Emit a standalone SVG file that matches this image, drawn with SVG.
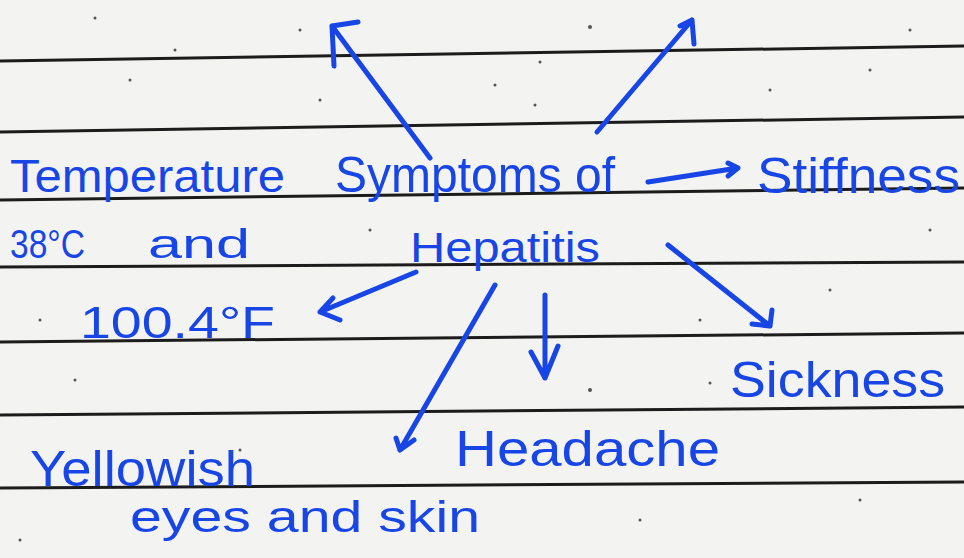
<svg xmlns="http://www.w3.org/2000/svg" width="964" height="558" viewBox="0 0 964 558">
<defs>
<style>
.rule{stroke:#1c1c1c;stroke-width:3;fill:none}
.ink{fill:#1846e6;font-family:"Liberation Sans","DejaVu Sans",sans-serif}
.arr{stroke:#1846e6;stroke-width:5;fill:none;stroke-linecap:round;stroke-linejoin:round}
.dot{fill:#555}
</style>
</defs>
<rect width="964" height="558" fill="#f3f3f1"/>
<g id="paper-lines">
<path class="rule" d="M0 61 L964 46"/>
<path class="rule" d="M0 132 L964 117"/>
<path class="rule" d="M0 200 L964 188"/>
<path class="rule" d="M0 267 L964 262"/>
<path class="rule" d="M0 342 L964 333"/>
<path class="rule" d="M0 415 L964 407"/>
<path class="rule" d="M0 488 L964 482"/>
</g>
<g id="specks">
<circle class="dot" cx="95" cy="18" r="1.5"/><circle class="dot" cx="175" cy="50" r="1.5"/><circle class="dot" cx="300" cy="30" r="1.5"/>
<circle class="dot" cx="590" cy="27" r="2"/><circle class="dot" cx="540" cy="62" r="1.5"/><circle class="dot" cx="870" cy="70" r="1.5"/>
<circle class="dot" cx="910" cy="30" r="1.5"/><circle class="dot" cx="495" cy="85" r="1.5"/><circle class="dot" cx="535" cy="105" r="1.5"/>
<circle class="dot" cx="320" cy="100" r="1.5"/><circle class="dot" cx="130" cy="80" r="1.5"/><circle class="dot" cx="770" cy="90" r="1.5"/>
<circle class="dot" cx="930" cy="230" r="1.5"/><circle class="dot" cx="370" cy="230" r="1.5"/><circle class="dot" cx="830" cy="290" r="1.5"/>
<circle class="dot" cx="590" cy="390" r="2"/><circle class="dot" cx="700" cy="320" r="1.5"/><circle class="dot" cx="75" cy="380" r="1.5"/>
<circle class="dot" cx="240" cy="450" r="1.5"/><circle class="dot" cx="640" cy="520" r="1.5"/><circle class="dot" cx="860" cy="500" r="1.5"/>
<circle class="dot" cx="40" cy="320" r="1.5"/><circle class="dot" cx="710" cy="383" r="1.5"/><circle class="dot" cx="20" cy="540" r="1.5"/>
</g>
<g id="connectors">
<path class="arr" d="M430 158 L332 26 M332 26 L334 66 M332 26 L358 22"/>
<path class="arr" d="M597 132 L692 20 M692 20 L680 26 M692 20 L694 44"/>
<path class="arr" d="M648 182 L738 168 M738 168 L728 163 M738 168 L728 176"/>
<path class="arr" d="M668 245 L770 326 M770 326 L772 310 M770 326 L752 324"/>
<path class="arr" d="M545 295 L545 378 M545 378 L531 352 M545 378 L558 346"/>
<path class="arr" d="M495 285 L400 450 M400 450 L396 438 M400 450 L414 440"/>
<path class="arr" d="M416 272 L320 312 M320 312 L333 298 M320 312 L340 320"/>
</g>
<g id="node-center">
<text class="ink" x="335" y="192" font-size="50" textLength="280" lengthAdjust="spacingAndGlyphs">Symptoms of</text>
<text class="ink" x="410" y="262" font-size="42" textLength="190" lengthAdjust="spacingAndGlyphs">Hepatitis</text>
</g>
<g id="node-temperature">
<text class="ink" x="10" y="192" font-size="46" textLength="275" lengthAdjust="spacingAndGlyphs">Temperature</text>
<text class="ink" x="10" y="258" font-size="40"><tspan textLength="75" lengthAdjust="spacingAndGlyphs">38°C</tspan><tspan x="148" textLength="102" lengthAdjust="spacingAndGlyphs">and</tspan></text>
<text class="ink" x="80" y="338" font-size="44" textLength="195" lengthAdjust="spacingAndGlyphs">100.4°F</text>
</g>
<g id="node-stiffness">
<text class="ink" x="757" y="193" font-size="50" textLength="203" lengthAdjust="spacingAndGlyphs">Stiffness</text>
</g>
<g id="node-sickness">
<text class="ink" x="730" y="397" font-size="50" textLength="215" lengthAdjust="spacingAndGlyphs">Sickness</text>
</g>
<g id="node-headache">
<text class="ink" x="455" y="466" font-size="50" textLength="265" lengthAdjust="spacingAndGlyphs">Headache</text>
</g>
<g id="node-yellowish">
<text class="ink" x="30" y="486" font-size="50" textLength="225" lengthAdjust="spacingAndGlyphs">Yellowish</text>
<text class="ink" x="130" y="532" font-size="44" textLength="350" lengthAdjust="spacingAndGlyphs">eyes and skin</text>
</g>
</svg>
